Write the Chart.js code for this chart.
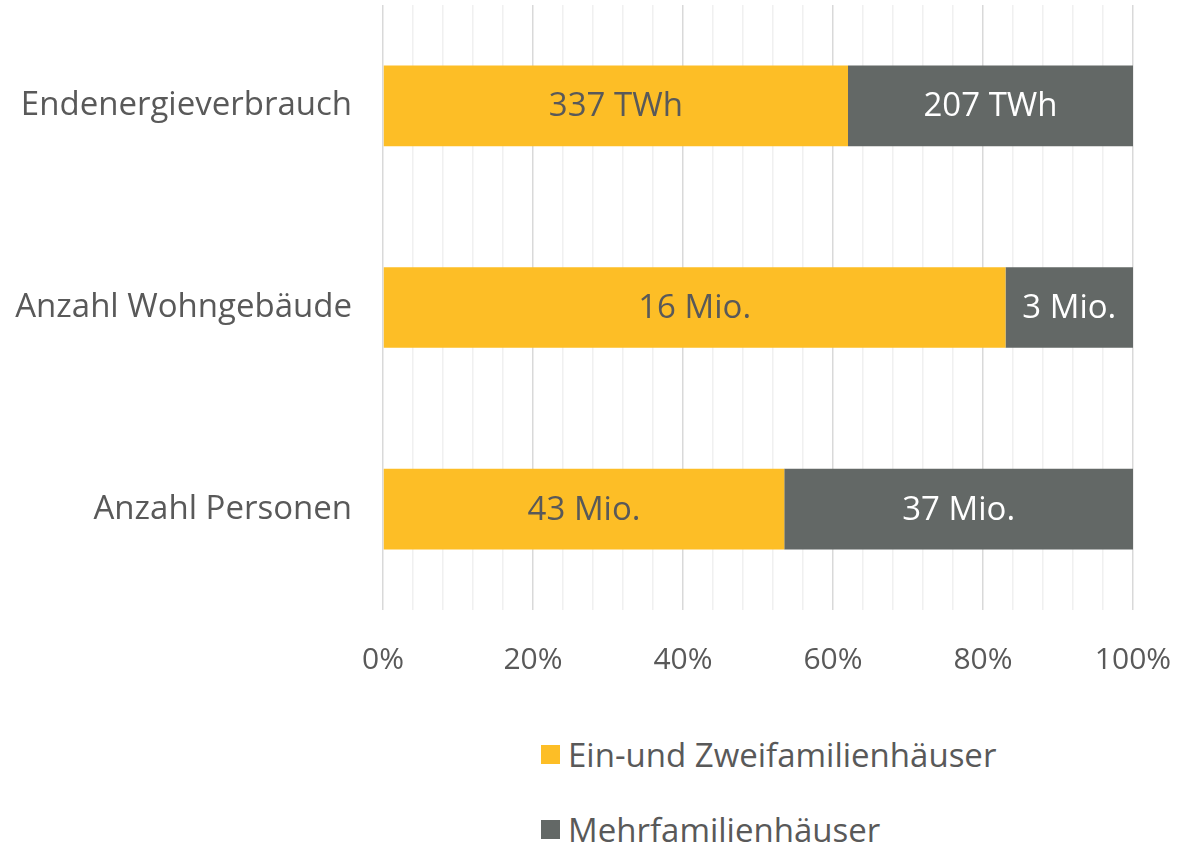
<!DOCTYPE html>
<html>
<head>
<meta charset="utf-8">
<script src="https://cdn.jsdelivr.net/npm/chart.js@4/dist/chart.umd.min.js"></script>
<style>
  body { margin: 0; background: #fff; font-family: "Open Sans", sans-serif; }
  #wrap { position: relative; width: 1178px; height: 846px; }
  #box { position: absolute; left: 0; top: 0; width: 1178px; height: 700px; }
  #legend { position: absolute; left: 541px; top: 732px; color: #595959; font-size: 33px; }
  #legend div { display: flex; align-items: center; height: 44px; margin-bottom: 31px; }
  #legend span.sw { width: 19px; height: 19px; margin-right: 8px; display: inline-block; }
</style>
</head>
<body>
<div id="wrap">
  <div id="box"><canvas id="stackChart"></canvas></div>
  <div id="legend"></div>
</div>
<script>
const categories = ['Endenergieverbrauch', 'Anzahl Wohngebäude', 'Anzahl Personen'];
const seriesNames = ['Ein-und Zweifamilienhäuser', 'Mehrfamilienhäuser'];
// share in percent
const efhShare = [62, 83, 53.5];
const mfhShare = [38, 17, 46.5];
// value labels printed on the bars
const efhLabels = ['337 TWh', '16 Mio.', '43 Mio.'];
const mfhLabels = ['207 TWh', '3 Mio.', '37 Mio.'];
const tickLabels = ['0%', '20%', '40%', '60%', '80%', '100%'];

const yellow = '#FDBE26';
const grey = '#636866';
const textColor = '#595959';
const fontName = 'Open Sans';

// draws the value labels in the middle of each segment
const barLabels = {
    id: 'barLabels',
    afterDatasetsDraw(chart) {
        const c = chart.ctx;
        c.save();
        c.font = '33px "' + fontName + '"';
        c.textAlign = 'center';
        c.textBaseline = 'middle';
        chart.data.datasets.forEach((ds, i) => {
            chart.getDatasetMeta(i).data.forEach((bar, j) => {
                const p = bar.getProps(['x', 'y', 'base'], true);
                c.fillStyle = ds.labelColor;
                c.fillText(ds.valueLabels[j], (p.x + p.base) / 2, p.y + 1);
            });
        });
        c.restore();
    }
};

const ctx = document.getElementById('stackChart');
const chart = new Chart(ctx, {
    type: 'bar',
    data: {
        labels: categories,
        datasets: [
            {
                label: seriesNames[0],
                data: efhShare,
                backgroundColor: yellow,
                valueLabels: efhLabels,
                labelColor: textColor
            },
            {
                label: seriesNames[1],
                data: mfhShare,
                backgroundColor: grey,
                valueLabels: mfhLabels,
                labelColor: '#ffffff'
            }
        ]
    },
    options: {
        indexAxis: 'y',
        responsive: true,
        maintainAspectRatio: false,
        animation: false,
        barPercentage: 0.4,
        categoryPercentage: 1,
        layout: { padding: { top: 5, right: 45, bottom: 22, left: 0 } },
        plugins: {
            legend: { display: false },
            tooltip: { enabled: false }
        },
        scales: {
            x: {
                stacked: true,
                min: 0,
                max: 100,
                afterFit: (scale) => {
                    scale.height = 68;
                    scale.paddingLeft = 0;
                    scale.paddingRight = 0;
                },
                ticks: {
                    stepSize: 4,
                    autoSkip: false,
                    maxRotation: 0,
                    padding: 32,
                    color: textColor,
                    font: { family: fontName, size: 30 },
                    callback: (v) => (v % 20 === 0 ? tickLabels[v / 20] : '')
                },
                grid: {
                    drawTicks: false,
                    lineWidth: 1.5,
                    color: (c) => (c.tick && c.tick.value % 20 === 0 ? '#d9d9d9' : '#f0f0f0')
                },
                border: { display: false }
            },
            y: {
                stacked: true,
                afterFit: (scale) => {
                    scale.width = 383;
                    scale.paddingTop = 0;
                    scale.paddingBottom = 0;
                },
                ticks: {
                    padding: 23,
                    color: textColor,
                    font: { family: fontName, size: 33 }
                },
                grid: { display: false },
                border: { display: false }
            }
        }
    },
    plugins: [barLabels]
});

// legend stacked vertically below the chart
const legend = document.getElementById('legend');
chart.data.datasets.forEach((ds) => {
    const row = document.createElement('div');
    row.innerHTML = '<span class="sw" style="background:' + ds.backgroundColor + '"></span>' + ds.label;
    legend.appendChild(row);
});
</script>
</body>
</html>
